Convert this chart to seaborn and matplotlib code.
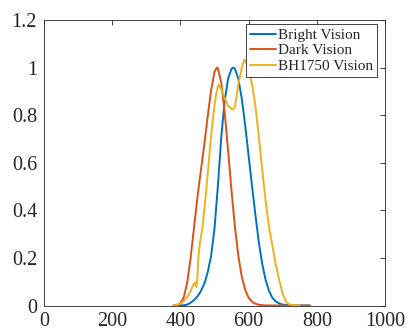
import numpy as np
import pandas as pd
import matplotlib
matplotlib.use("Agg")
import matplotlib.pyplot as plt
import seaborn as sns

# wavelength grids (nm) and responses
bright_wl = [380, 390, 400, 410, 420, 430, 440, 450, 460, 470, 480, 490, 500, 510,
             520, 530, 540, 550, 555, 560, 570, 580, 590, 600, 610, 620, 630, 640,
             650, 660, 670, 680, 690, 700, 710, 720, 730, 740, 750, 760, 770, 780]
bright_val = [0.00004, 0.00012, 0.0004, 0.0012, 0.004, 0.0116, 0.023, 0.038, 0.06,
              0.091, 0.139, 0.208, 0.323, 0.503, 0.71, 0.862, 0.954, 0.995, 1.0,
              0.995, 0.952, 0.87, 0.757, 0.631, 0.503, 0.381, 0.265, 0.175, 0.107,
              0.061, 0.032, 0.017, 0.0082, 0.0041, 0.0021, 0.00105, 0.00052,
              0.00025, 0.00012, 0.00006, 0.00003, 0.000015]

dark_wl = [380, 390, 400, 410, 420, 430, 440, 450, 460, 470, 480, 490, 500, 507,
           510, 520, 530, 540, 550, 560, 570, 580, 590, 600, 610, 620, 630, 640,
           650, 660, 670, 680, 690, 700, 720, 740, 760, 780]
dark_val = [0.0006, 0.0022, 0.0093, 0.0348, 0.0966, 0.1998, 0.3281, 0.455, 0.567,
            0.676, 0.793, 0.904, 0.982, 1.0, 0.997, 0.935, 0.811, 0.65, 0.481,
            0.3288, 0.2076, 0.1212, 0.0655, 0.0332, 0.0159, 0.0074, 0.0033, 0.0015,
            0.0007, 0.0003, 0.00015, 0.00007, 0.00004, 0.00002, 0.00001, 0.0,
            0.0, 0.0]

bh_wl = [380, 390, 400, 410, 420, 430, 437, 443, 447, 450, 453, 458, 465, 473, 480,
         488, 495, 500, 505, 512, 520, 530, 540, 550, 555, 560, 570, 580, 588, 600,
         610, 620, 630, 640, 650, 660, 670, 680, 690, 700, 710, 720, 730, 740, 750]
bh_val = [0.0, 0.003, 0.008, 0.018, 0.035, 0.06, 0.085, 0.097, 0.078, 0.12, 0.21,
          0.27, 0.33, 0.445, 0.55, 0.68, 0.78, 0.84, 0.89, 0.929, 0.91, 0.87, 0.84,
          0.826, 0.824, 0.835, 0.93, 1.0, 1.034, 1.0, 0.93, 0.84, 0.71, 0.57, 0.44,
          0.33, 0.25, 0.17, 0.105, 0.05, 0.015, 0.004, 0.002, 0.001, 0.0]

names = ["Bright Vision", "Dark Vision", "BH1750 Vision"]
colors = ["#0072BD", "#D95319", "#EDB120"]

df = pd.concat([
    pd.DataFrame({"wl": bright_wl, "val": bright_val, "curve": names[0]}),
    pd.DataFrame({"wl": dark_wl, "val": dark_val, "curve": names[1]}),
    pd.DataFrame({"wl": bh_wl, "val": bh_val, "curve": names[2]}),
])

sns.set_style("white")
plt.rcParams["font.family"] = ["Liberation Serif", "DejaVu Serif"]

fig = plt.figure(figsize=(4.08, 3.31), dpi=100)
ax = fig.add_axes([0.1078, 0.077, 0.8358, 0.8626])
sns.lineplot(data=df, x="wl", y="val", hue="curve", palette=colors,
             hue_order=names, linewidth=1.4, sort=False, estimator=None, ax=ax)

ax.set_xlim(0, 1000)
ax.set_ylim(0, 1.2)
xt = [0, 200, 400, 600, 800, 1000]
yt = [0, 0.2, 0.4, 0.6, 0.8, 1, 1.2]
ax.set_xticks(xt)
ax.set_xticklabels([str(v) for v in xt])
ax.set_yticks(yt)
ax.set_yticklabels(["0", "0.2", "0.4", "0.6", "0.8", "1", "1.2"])
ax.set_xlabel("")
ax.set_ylabel("")
ax.tick_params(direction="in", top=True, right=True, length=3.5, width=0.6,
               color="#262626", labelsize=14.5, labelcolor="#262626")
ax.tick_params(axis="x", pad=5)
ax.tick_params(axis="y", pad=5)
for s in ax.spines.values():
    s.set_color("#262626")
    s.set_linewidth(0.6)

leg = ax.legend(loc="upper right", bbox_to_anchor=(0.9774, 0.986), borderaxespad=0,
                fontsize=11, frameon=True, fancybox=False, handlelength=1.7,
                handletextpad=0.1, labelspacing=0.12, borderpad=0.28)
leg.get_frame().set_edgecolor("#262626")
leg.get_frame().set_linewidth(0.6)
leg.get_frame().set_alpha(1)

plt.savefig("out.png", dpi=100)
